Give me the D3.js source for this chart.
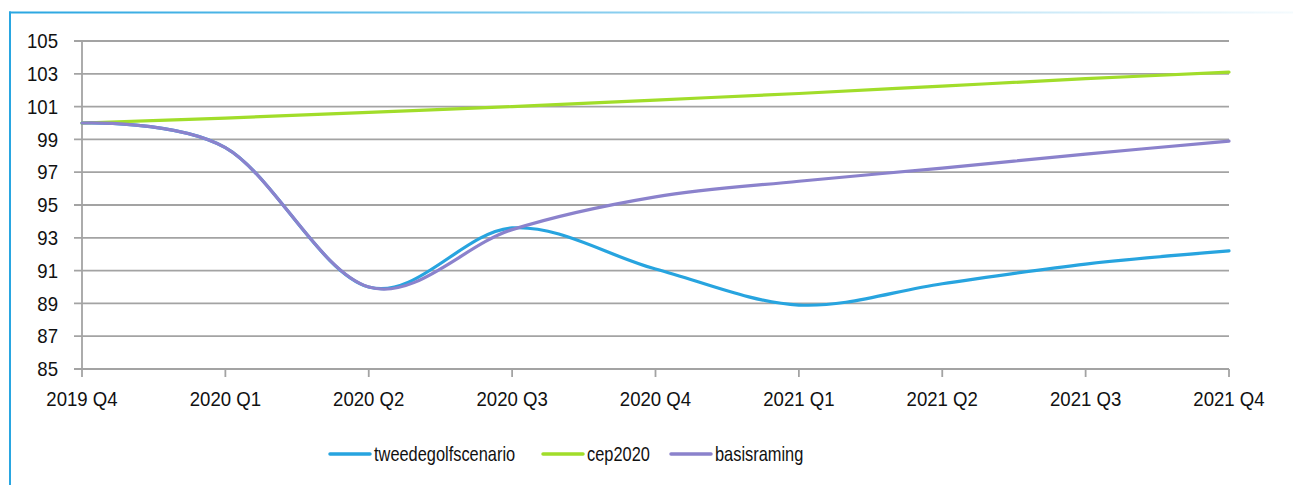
<!DOCTYPE html>
<html>
<head>
<meta charset="utf-8">
<script src="https://cdn.jsdelivr.net/npm/d3@7"></script>
<style>
  html, body { margin: 0; padding: 0; background: #fff; }
  svg text { font-family: "Liberation Sans", Arial, sans-serif; fill: #111; }
</style>
</head>
<body>
<svg id="chart" width="1293" height="485"></svg>
<script>
const quarters = ["2019 Q4", "2020 Q1", "2020 Q2", "2020 Q3", "2020 Q4", "2021 Q1", "2021 Q2", "2021 Q3", "2021 Q4"];
const tweedegolfscenario = [100, 98.5, 90.0, 93.6, 91.1, 88.9, 90.2, 91.4, 92.2];
const cep2020 = [100, 100.3, 100.65, 101.0, 101.4, 101.8, 102.25, 102.7, 103.1];
const basisraming = [100, 98.5, 90.0, 93.5, 95.5, 96.45, 97.25, 98.1, 98.9];
const yTicks = [85, 87, 89, 91, 93, 95, 97, 99, 101, 103, 105];

const seriesList = [
  { name: "tweedegolfscenario", values: tweedegolfscenario, color: "#27a4df" },
  { name: "cep2020", values: cep2020, color: "#a1dd2a" },
  { name: "basisraming", values: basisraming, color: "#8b82cc" }
];

const svg = d3.select("#chart");
const W = 1293, H = 485;
const plotLeft = 82, plotRight = 1229, plotTop = 41, plotBottom = 369;
const FONT = 20;

// Condensed text: a regular sans squeezed horizontally
function narrowText(sel, anchor, squeeze) {
  sel.append("text")
    .attr("transform", `scale(${squeeze},1)`)
    .attr("text-anchor", anchor)
    .attr("font-size", FONT)
    .attr("dy", "0.36em");
}

// Frame: solid blue left edge, top edge fading to the right
const defs = svg.append("defs");
const grad = defs.append("linearGradient").attr("id", "topFade").attr("x1", "0%").attr("x2", "100%");
grad.append("stop").attr("offset", "0%").attr("stop-color", "#29a6e1").attr("stop-opacity", 1);
grad.append("stop").attr("offset", "100%").attr("stop-color", "#29a6e1").attr("stop-opacity", 0.05);
svg.append("rect").attr("x", 9).attr("y", 11.5).attr("width", W - 9).attr("height", 2).attr("fill", "url(#topFade)");
svg.append("rect").attr("x", 9).attr("y", 11.5).attr("width", 2).attr("height", H).attr("fill", "#29a6e1");

const x = d3.scalePoint().domain(quarters).range([plotLeft, plotRight]);
const y = d3.scaleLinear().domain([85, 105]).range([plotBottom, plotTop]);

// Horizontal gridlines
svg.append("g").selectAll("line").data(yTicks).join("line")
  .attr("x1", plotLeft - 8).attr("x2", plotRight)
  .attr("y1", d => y(d)).attr("y2", d => y(d))
  .attr("stroke", "#a3a3a3").attr("stroke-width", 1.8);

// Y axis line
svg.append("line").attr("x1", plotLeft).attr("x2", plotLeft).attr("y1", plotTop).attr("y2", plotBottom + 8)
  .attr("stroke", "#a3a3a3").attr("stroke-width", 1.8);

// X tick marks
svg.append("g").selectAll("line").data(quarters.slice(1)).join("line")
  .attr("x1", d => x(d)).attr("x2", d => x(d))
  .attr("y1", plotBottom).attr("y2", plotBottom + 8)
  .attr("stroke", "#a3a3a3").attr("stroke-width", 1.8);

// Y tick labels
const yl = svg.append("g").selectAll("g").data(yTicks).join("g")
  .attr("transform", d => `translate(${plotLeft - 24},${y(d)})`);
narrowText(yl, "end", 0.93);
yl.select("text").text(d => d);

// X tick labels
const xl = svg.append("g").selectAll("g").data(quarters).join("g")
  .attr("transform", d => `translate(${x(d)},${plotBottom + 30})`);
narrowText(xl, "middle", 0.93);
xl.select("text").text(d => d);

// Series lines, smoothed
const line = d3.line()
  .x((d, i) => x(quarters[i]))
  .y(d => y(d))
  .curve(d3.curveCardinal.tension(0));

svg.append("g").selectAll("path").data(seriesList).join("path")
  .attr("d", s => line(s.values))
  .attr("fill", "none")
  .attr("stroke", s => s.color)
  .attr("stroke-width", 3.2)
  .attr("stroke-linecap", "round");

// Legend
const legendX = [330, 543, 671];
const lg = svg.append("g").selectAll("g").data(seriesList).join("g")
  .attr("transform", (s, i) => `translate(${legendX[i]},454)`);
lg.append("line").attr("x1", 0).attr("x2", 40).attr("y1", 0).attr("y2", 0)
  .attr("stroke", s => s.color).attr("stroke-width", 3.5).attr("stroke-linecap", "round");
const lt = lg.append("g").attr("transform", "translate(44,0)");
narrowText(lt, "start", 0.82);
lt.select("text").text(s => s.name);
</script>
</body>
</html>
